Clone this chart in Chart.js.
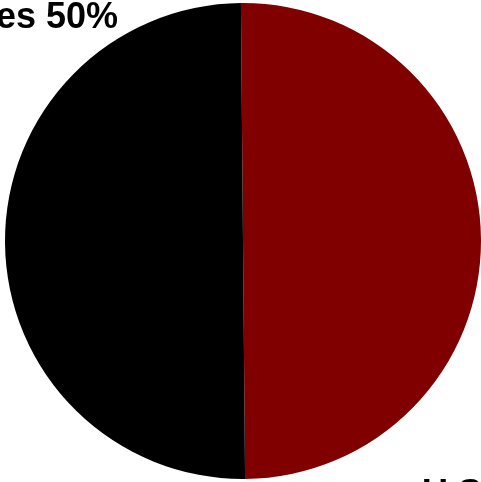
<!DOCTYPE html>
<html>
<head>
<meta charset="utf-8">
<script src="https://cdn.jsdelivr.net/npm/chart.js@4"></script>
<style>
  html, body { margin: 0; padding: 0; background: #fff; }
  #wrap { width: 481px; height: 482px; }
</style>
</head>
<body>
<div id="wrap"><canvas id="chart"></canvas></div>
<script>
const labels = ["U.S.", "Other countries"];
const shares = [50, 50];
const colors = ["#800000", "#000000"];

// slice labels sit outside the pie, placed from the arc centre
const sliceLabels = {
  id: "sliceLabels",
  afterDraw(c) {
    const arc = c.getDatasetMeta(0).data[0];
    const { x, y, outerRadius: r } = arc.getProps(["x", "y", "outerRadius"], true);
    const g = c.ctx;
    g.save();
    g.font = "bold 36px 'Liberation Sans', Arial, sans-serif";
    g.fillStyle = "#000";
    g.textBaseline = "alphabetic";
    g.textAlign = "right";
    g.fillText(`${labels[1]} ${shares[1]}%`, x - r * 0.525, y - r * 0.893);
    g.textAlign = "left";
    g.fillText(`${labels[0]} ${shares[0]}%`, x + r * 0.752, y + r * 1.108);
    g.restore();
  }
};

new Chart(document.getElementById("chart"), {
  type: "pie",
  data: {
    labels,
    datasets: [{ data: shares, backgroundColor: colors, borderWidth: 0 }]
  },
  options: {
    responsive: true,
    maintainAspectRatio: false,
    animation: false,
    rotation: -0.5,
    layout: { padding: { top: 3, bottom: 3, left: 5, right: 0 } },
    plugins: { legend: { display: false }, tooltip: { enabled: false } }
  },
  plugins: [sliceLabels]
});
</script>
</body>
</html>
